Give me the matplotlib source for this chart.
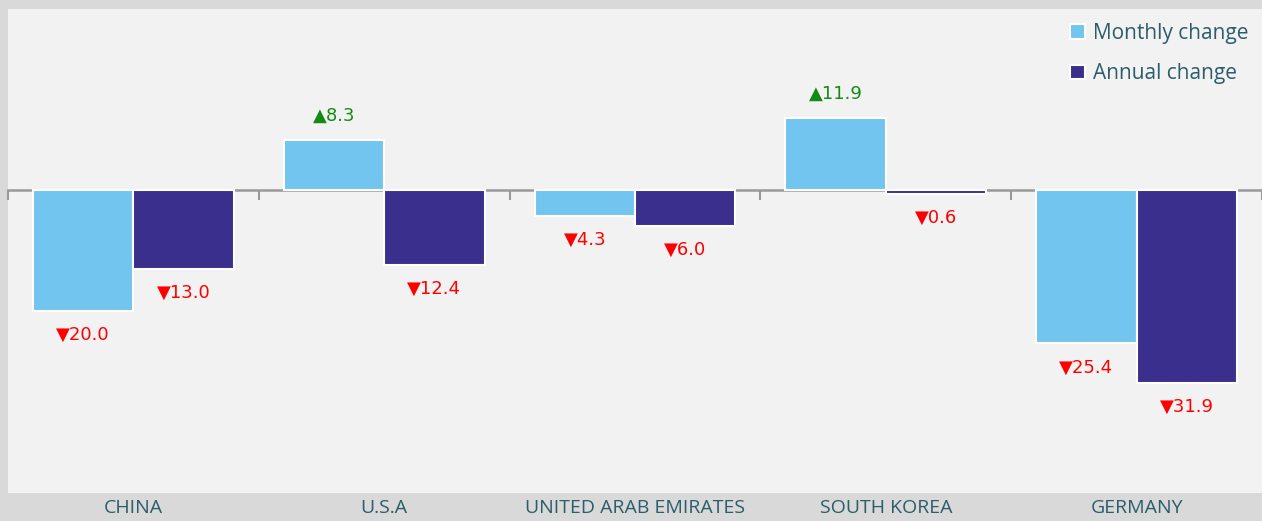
import matplotlib.pyplot as plt
import numpy as np
from matplotlib.patches import Patch

countries = ['CHINA', 'U.S.A', 'UNITED ARAB EMIRATES', 'SOUTH KOREA', 'GERMANY']
monthly_change = [-20.0, 8.3, -4.3, 11.9, -25.4]
annual_change = [-13.0, -12.4, -6.0, -0.6, -31.9]
series_names = ['Monthly change', 'Annual change']

light_blue = '#72c5ef'
dark_blue = '#3b2f8e'
text_teal = '#2b5d6b'

plt.rcParams['font.family'] = ['Open Sans', 'DejaVu Sans']

fig = plt.figure(figsize=(12.62, 5.21), dpi=100, facecolor='#d9d9d9')
ax = fig.add_axes([8 / 1262, 28 / 521, 1254 / 1262, 484 / 521])
ax.set_facecolor('#f2f2f2')

x = np.arange(len(countries))
w = 0.4
bars_m = ax.bar(x - w / 2, monthly_change, w, color=light_blue, edgecolor='white', linewidth=1.5, zorder=2)
bars_a = ax.bar(x + w / 2, annual_change, w, color=dark_blue, edgecolor='white', linewidth=1.5, zorder=2)

ax.set_xlim(-0.5, len(countries) - 0.5)
ax.set_ylim(-50.2, 30)

# value labels with arrows
for bars, vals in [(bars_m, monthly_change), (bars_a, annual_change)]:
    for b, v in zip(bars, vals):
        up = v >= 0
        txt = ('\u25b2' if up else '\u25bc') + f'{abs(v):.1f}'
        ax.annotate(txt, (b.get_x() + b.get_width() / 2, v),
                    xytext=(0, 24 if up else -24), textcoords='offset pixels',
                    ha='center', va='center', fontsize=13,
                    color='#138a13' if up else '#ff0000',
                    family=['DejaVu Sans'])

# zero line as axis with boundary ticks
for s in ['top', 'right', 'left']:
    ax.spines[s].set_visible(False)
ax.spines['bottom'].set_position(('data', 0))
ax.spines['bottom'].set_color('#999999')
ax.spines['bottom'].set_linewidth(1.8)
ax.spines['bottom'].set_zorder(1)
ax.set_xticks(np.arange(-0.5, len(countries), 1.0))
ax.tick_params(axis='x', length=7, width=1.5, color='#999999', labelbottom=False)
ax.set_yticks([])

for i, c in enumerate(countries):
    ax.text(i, -0.0125, c, transform=ax.get_xaxis_transform(), ha='center', va='top',
            fontsize=14, color=text_teal, clip_on=False)

handles = [Patch(facecolor=light_blue, edgecolor='white', linewidth=1.5),
           Patch(facecolor=dark_blue, edgecolor='white', linewidth=1.5)]
leg = ax.legend(handles, series_names, loc='upper right', frameon=False,
                fontsize=15, handlelength=0.7, handleheight=0.7, handletextpad=0.4,
                labelspacing=0.95, borderaxespad=0.25)
for t in leg.get_texts():
    t.set_color(text_teal)

fig.savefig('out.png', dpi=100, facecolor=fig.get_facecolor())
